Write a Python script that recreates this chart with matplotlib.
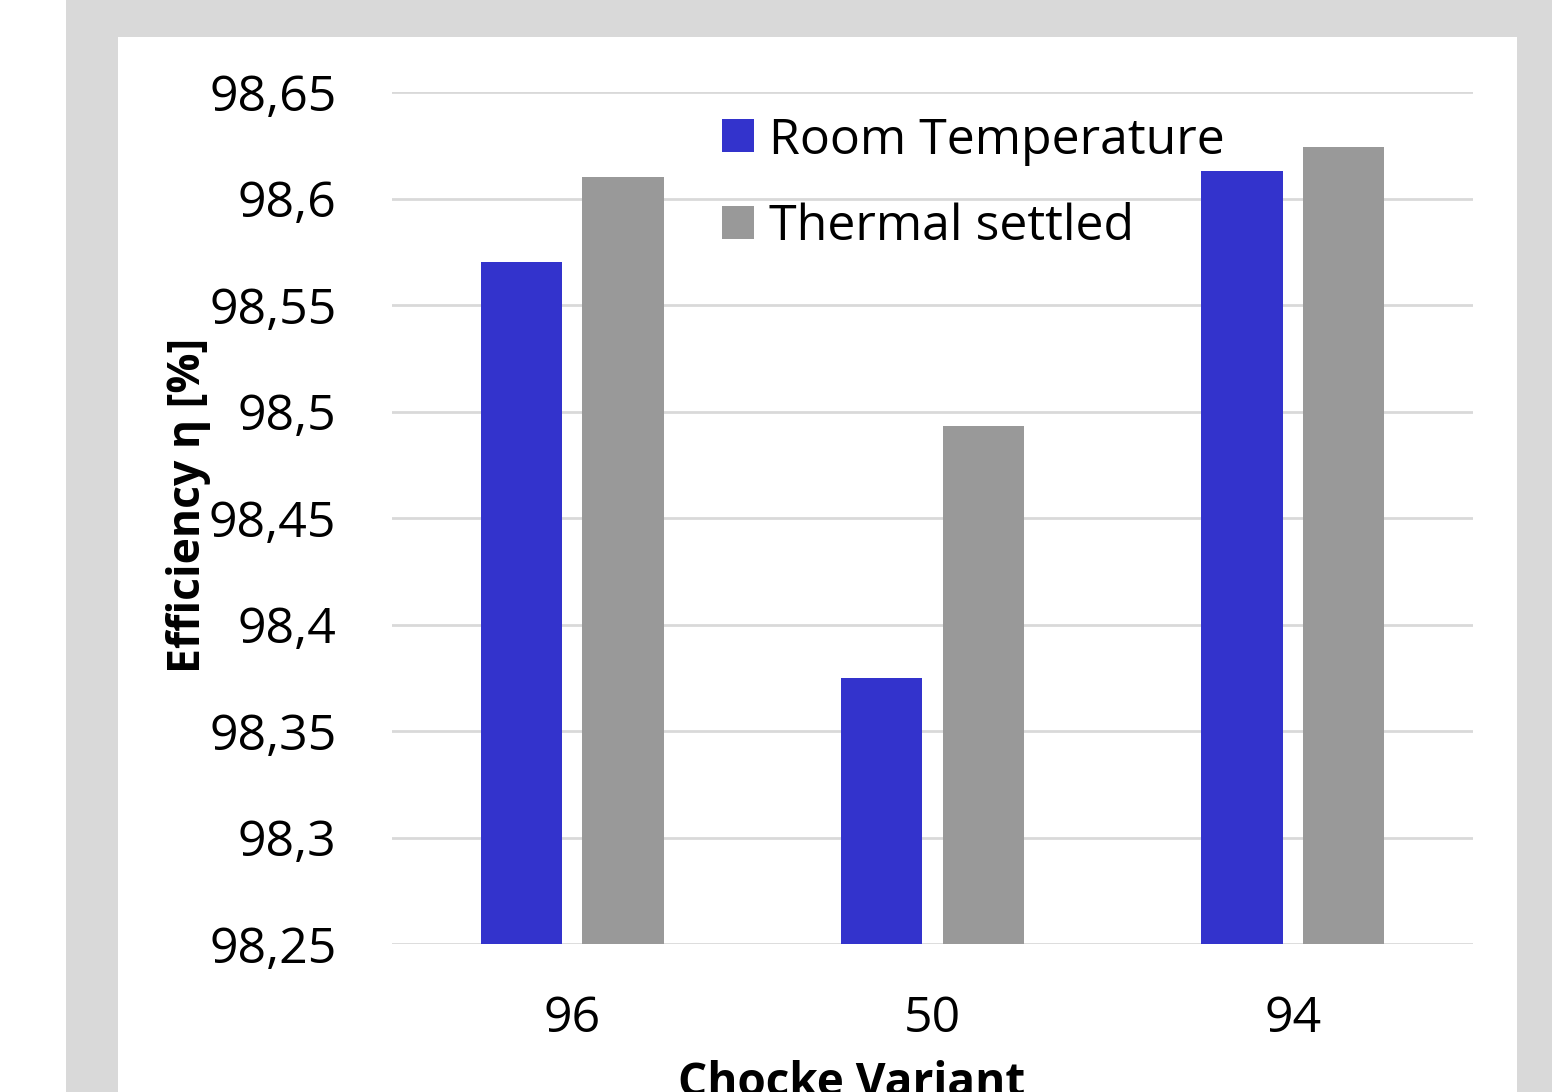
import numpy as np
import matplotlib.pyplot as plt
from matplotlib.patches import Rectangle, Patch

# Daten
variants = ["96", "50", "94"]
room_temp = [98.570, 98.375, 98.613]
thermal_settled = [98.610, 98.493, 98.624]
y_ticks = [98.25, 98.30, 98.35, 98.40, 98.45, 98.50, 98.55, 98.60, 98.65]
y_tick_labels = ["98,25", "98,3", "98,35", "98,4", "98,45", "98,5", "98,55", "98,6", "98,65"]

BLUE = "#3333cc"
GRAY = "#999999"
GRID = "#d9d9d9"

plt.rcParams["font.family"] = ["Open Sans", "DejaVu Sans"]

W, H = 1552, 1092
fig = plt.figure(figsize=(W / 100, H / 100), dpi=100)
fig.patch.set_facecolor("white")

# grauer Rahmen + weisse Flaeche
fig.patches.append(Rectangle((66 / W, 0), 1 - 66 / W, 1, transform=fig.transFigure,
                             facecolor=GRID, edgecolor="none", zorder=-2))
fig.patches.append(Rectangle((118 / W, 0), (1517 - 118) / W, 1 - 37 / H, transform=fig.transFigure,
                             facecolor="white", edgecolor="none", zorder=-1))

ax = fig.add_axes([392 / W, 1 - 944 / H, (1473 - 392) / W, (944 - 92) / H])
ax.set_zorder(1)
ax.set_facecolor("none")

x = np.arange(len(variants))
width = 0.225
offset = 0.141

ax.bar(x - offset, room_temp, width, color=BLUE, zorder=3)
ax.bar(x + offset, thermal_settled, width, color=GRAY, zorder=3)

ax.set_xlim(-0.5, 2.5)
ax.set_ylim(98.25, 98.65)
ax.set_yticks(y_ticks)
ax.set_yticklabels(y_tick_labels)
ax.set_xticks(x)
ax.set_xticklabels(variants)

ax.tick_params(axis="y", length=0, pad=40, labelsize=36)
ax.tick_params(axis="x", length=0, pad=36, labelsize=36)

ax.grid(axis="y", color=GRID, linewidth=2, zorder=0)
for s in ax.spines.values():
    s.set_visible(False)

ax.set_ylabel("Efficiency η [%]", fontsize=32, fontweight="bold")
ax.yaxis.set_label_coords(-0.167, 0.515)
ax.set_xlabel("Chocke Variant", fontsize=33, fontweight="bold")
ax.xaxis.set_label_coords((852 - 392) / (1473 - 392), -0.136)

handles = [Patch(facecolor=BLUE), Patch(facecolor=GRAY)]
ax.legend(handles, ["Room Temperature", "Thermal settled"],
          loc="upper left", bbox_to_anchor=(722 / W, 1 - 116 / H),
          bbox_transform=fig.transFigure, frameon=False, fontsize=36,
          handlelength=0.64, handleheight=0.64, handletextpad=0.3,
          labelspacing=0.75, borderpad=0, borderaxespad=0)

fig.savefig("out.png", dpi=100)
